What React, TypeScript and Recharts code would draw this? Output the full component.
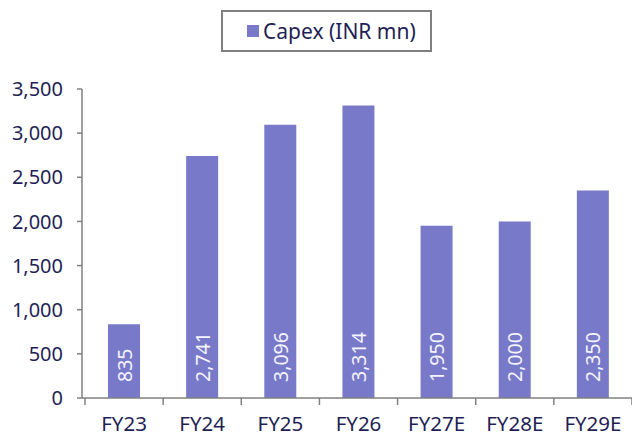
import React from 'react';
import { BarChart, Bar, XAxis, YAxis, Legend, LabelList } from 'recharts';

const categories = ['FY23', 'FY24', 'FY25', 'FY26', 'FY27E', 'FY28E', 'FY29E'];
const capex = [835, 2741, 3096, 3314, 1950, 2000, 2350];
const yTicks = [0, 500, 1000, 1500, 2000, 2500, 3000, 3500];
const seriesName = 'Capex (INR mn)';

const data = categories.map((c, i) => ({ name: c, capex: capex[i] }));

const TEXT = '#1F1F55';
const BAR = '#7979CA';
const AXIS = '#808080';
const FONT = '"Noto Sans", sans-serif';
const BAND = 547 / 7;

const fmt = (v: number) => v.toLocaleString('en-US');

const XTick = (props: any) => {
  const { x, y, payload, index } = props;
  const half = BAND / 2;
  return (
    <g>
      <line x1={x + half} x2={x + half} y1={y - 8} y2={y - 1} stroke={AXIS} strokeWidth={1.5} />
      {index === 0 && (
        <line x1={x - half} x2={x - half} y1={y - 8} y2={y - 1} stroke={AXIS} strokeWidth={1.5} />
      )}
      <text x={x} y={y + 25} textAnchor="middle" fill={TEXT} fontSize={20.5} fontFamily={FONT}>
        {payload.value}
      </text>
    </g>
  );
};

const BarLabel = (props: any) => {
  const { x, y, width, height, value } = props;
  const cx = x + width / 2;
  const by = y + height - 16;
  return (
    <text
      x={cx}
      y={by}
      transform={`rotate(-90, ${cx}, ${by})`}
      textAnchor="start"
      dominantBaseline="central"
      fill="#F4F4FF"
      fontSize={19.5}
      fontFamily={FONT}
    >
      {fmt(value)}
    </text>
  );
};

const LegendBox = () => (
  <div
    style={{
      boxSizing: 'border-box',
      width: 211,
      height: 42,
      border: '2px solid #7F7F7F',
      display: 'flex',
      alignItems: 'center',
      paddingLeft: 24,
      fontFamily: FONT,
      fontSize: 21,
      color: TEXT,
      background: '#fff',
    }}
  >
    <span style={{ display: 'inline-block', width: 12, height: 12, background: BAR, marginRight: 4 }} />
    <span>{seriesName}</span>
  </div>
);

export default function App() {
  return (
    <div style={{ position: 'absolute', left: 0, top: 0, width: 632, height: 438, background: '#fff' }}>
      <BarChart
        width={632}
        height={438}
        data={data}
        margin={{ top: 89, right: 0, bottom: 0, left: 0 }}
      >
        <XAxis
          dataKey="name"
          axisLine={{ stroke: AXIS, strokeWidth: 1.5 }}
          tickLine={false}
          tick={<XTick />}
          padding={{ left: 3, right: 0 }}
          interval={0}
          height={40}
        />
        <YAxis
          domain={[0, 3500]}
          ticks={yTicks}
          tickFormatter={fmt}
          axisLine={{ stroke: AXIS, strokeWidth: 1.5 }}
          tickLine={{ stroke: AXIS, strokeWidth: 1.5 }}
          tickSize={5}
          tickMargin={14}
          tick={{ fill: TEXT, fontSize: 20, fontFamily: FONT }}
          width={82}
          interval={0}
        />
        <Legend
          verticalAlign="middle"
          align="center"
          layout="horizontal"
          content={<LegendBox />}
          wrapperStyle={{ position: 'absolute', top: 10, left: 221, width: 211 }}
        />
        <Bar dataKey="capex" name={seriesName} fill={BAR} barSize={32} isAnimationActive={false}>
          <LabelList dataKey="capex" content={<BarLabel />} />
        </Bar>
      </BarChart>
    </div>
  );
}
